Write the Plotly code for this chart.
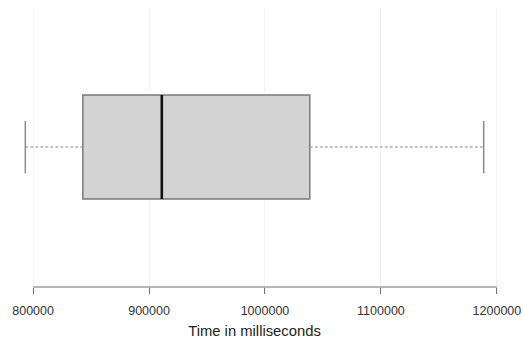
import plotly.graph_objects as go

# Summary statistics (ms)
q1 = [842900]
median = [911000]
q3 = [1038600]
lowerfence = [793300]
upperfence = [1188600]
tick_vals = [800000, 900000, 1000000, 1100000, 1200000]
tick_text = ["800000", "900000", "1000000", "1100000", "1200000"]
x_title = "Time in milliseconds"

pos = 1.0
box_w = 0.8
cap_half = 0.2

fig = go.Figure()

# Dashed whiskers
fig.add_trace(go.Scatter(
    x=[lowerfence[0], q1[0], None, q3[0], upperfence[0]],
    y=[pos, pos, None, pos, pos],
    mode="lines", line=dict(color="#8a8a8a", width=1.2, dash="3px,2px"),
    hoverinfo="skip", showlegend=False))
# Whisker caps
fig.add_trace(go.Scatter(
    x=[lowerfence[0], lowerfence[0], None, upperfence[0], upperfence[0]],
    y=[pos - cap_half, pos + cap_half, None, pos - cap_half, pos + cap_half],
    mode="lines", line=dict(color="#8a8a8a", width=1.5),
    hoverinfo="skip", showlegend=False))

# Box
fig.add_trace(go.Box(
    orientation="h", y=[pos], q1=q1, median=median, q3=q3,
    lowerfence=q1, upperfence=q3, width=box_w,
    fillcolor="#d3d3d3", line=dict(color="#7a7a7a", width=1.5),
    boxpoints=False, whiskerwidth=0, hoverinfo="skip", showlegend=False))

# Median
fig.add_trace(go.Scatter(
    x=[median[0], median[0]], y=[pos - box_w / 2, pos + box_w / 2],
    mode="lines", line=dict(color="#111111", width=2.6),
    hoverinfo="skip", showlegend=False))

fig.add_shape(type="line", xref="x", yref="paper",
              x0=tick_vals[0], x1=tick_vals[-1], y0=0, y1=0,
              line=dict(color="#6e6e6e", width=1.2))

fig.update_layout(
    width=523, height=342,
    margin=dict(l=7, r=21, t=8, b=55),
    paper_bgcolor="white", plot_bgcolor="white",
    font=dict(family="Liberation Sans, Arial, sans-serif", color="#333333"),
    xaxis=dict(
        range=[777500, 1204400],
        tickvals=tick_vals, ticktext=tick_text,
        tickfont=dict(size=12.5, color="#333333"),
        ticks="outside", ticklen=6, tickcolor="#6e6e6e", tickwidth=1.2,
        ticklabelstandoff=6,
        showline=False, zeroline=False,
        showgrid=True, gridcolor="#e8e8e8", griddash="1px,1px", gridwidth=1,
        title=dict(text=x_title, font=dict(size=14.8, color="#222222"), standoff=8),
        automargin=False,
    ),
    yaxis=dict(range=[1 - 140 / 130, 1 + 139 / 130], visible=False, showgrid=False,
               zeroline=False),
)

fig.write_html("out.html",
               config={"displayModeBar": False},
               post_script="document.body.style.margin='0';document.body.style.overflow='hidden';")
